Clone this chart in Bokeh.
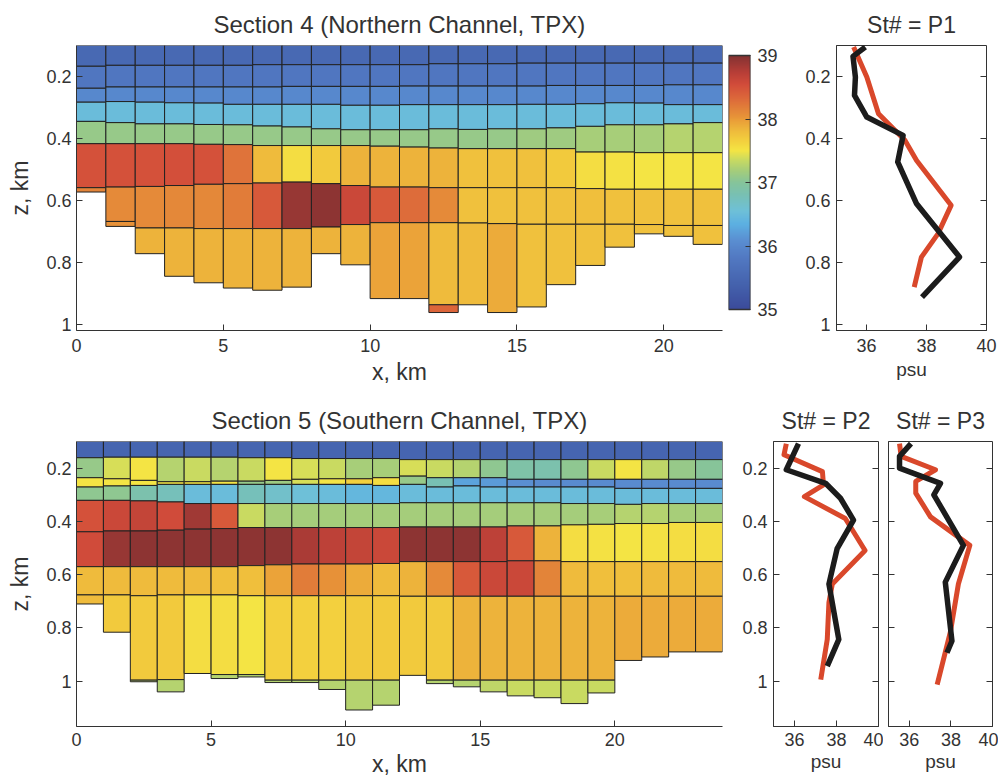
import numpy as np
from bokeh.plotting import figure
from bokeh.models import (Range1d, FixedTicker, LinearColorMapper,
                          ColumnDataSource, LinearAxis, NumeralTickFormatter)
from bokeh.layouts import row, column
from bokeh.embed import file_html
from bokeh.resources import INLINE

# ---------------- data ----------------
sec4_x = list(range(0, 23))          # column edges, km
sec4_bounds = [
    [0.10, 0.167, 0.238, 0.283, 0.345, 0.417, 0.559, 0.573],
    [0.10, 0.164, 0.234, 0.281, 0.349, 0.417, 0.557, 0.668, 0.684],
    [0.10, 0.164, 0.234, 0.283, 0.353, 0.417, 0.555, 0.689, 0.772],
    [0.10, 0.164, 0.234, 0.285, 0.353, 0.417, 0.552, 0.689, 0.845],
    [0.10, 0.164, 0.234, 0.286, 0.355, 0.419, 0.548, 0.691, 0.866],
    [0.10, 0.164, 0.234, 0.290, 0.356, 0.420, 0.546, 0.691, 0.883],
    [0.10, 0.162, 0.234, 0.290, 0.360, 0.423, 0.544, 0.691, 0.890],
    [0.10, 0.162, 0.232, 0.290, 0.363, 0.423, 0.541, 0.691, 0.880],
    [0.10, 0.162, 0.232, 0.290, 0.369, 0.423, 0.546, 0.686, 0.772],
    [0.10, 0.162, 0.232, 0.293, 0.372, 0.423, 0.552, 0.678, 0.808],
    [0.10, 0.162, 0.232, 0.293, 0.372, 0.425, 0.557, 0.672, 0.917],
    [0.10, 0.162, 0.231, 0.291, 0.372, 0.428, 0.557, 0.672, 0.917],
    [0.10, 0.159, 0.231, 0.291, 0.369, 0.431, 0.559, 0.672, 0.937, 0.962],
    [0.10, 0.159, 0.231, 0.291, 0.371, 0.433, 0.559, 0.673, 0.937],
    [0.10, 0.159, 0.231, 0.291, 0.369, 0.433, 0.559, 0.675, 0.962],
    [0.10, 0.157, 0.231, 0.290, 0.369, 0.433, 0.559, 0.677, 0.944],
    [0.10, 0.157, 0.229, 0.290, 0.366, 0.433, 0.559, 0.677, 0.872],
    [0.10, 0.157, 0.229, 0.288, 0.361, 0.444, 0.562, 0.677, 0.810],
    [0.10, 0.157, 0.229, 0.285, 0.356, 0.444, 0.564, 0.677, 0.751],
    [0.10, 0.157, 0.229, 0.286, 0.356, 0.446, 0.564, 0.678, 0.708],
    [0.10, 0.157, 0.227, 0.291, 0.353, 0.446, 0.564, 0.681, 0.716],
    [0.10, 0.157, 0.227, 0.291, 0.349, 0.446, 0.564, 0.681, 0.742],
]
sec4_sal = [
    [35.5, 35.75, 36.0, 36.5, 37.1, 38.5, 38.15],
    [35.5, 35.75, 36.0, 36.5, 37.1, 38.5, 38.1, 38.05],
    [35.5, 35.75, 36.0, 36.5, 37.1, 38.5, 38.1, 37.85],
    [35.5, 35.75, 36.0, 36.5, 37.1, 38.52, 38.12, 37.85],
    [35.5, 35.75, 36.0, 36.5, 37.1, 38.5, 38.12, 37.85],
    [35.5, 35.75, 36.0, 36.5, 37.1, 38.25, 38.2, 37.85],
    [35.5, 35.75, 36.0, 36.5, 37.1, 37.8, 38.45, 37.85],
    [35.5, 35.75, 36.0, 36.5, 37.1, 37.55, 38.9, 37.85],
    [35.5, 35.75, 36.0, 36.5, 37.1, 37.7, 38.95, 37.85],
    [35.5, 35.75, 36.0, 36.5, 37.1, 37.85, 38.6, 37.85],
    [35.5, 35.75, 36.0, 36.5, 37.1, 37.85, 38.45, 37.95],
    [35.5, 35.75, 36.0, 36.5, 37.1, 37.85, 38.3, 37.95],
    [35.5, 35.75, 36.0, 36.5, 37.1, 37.85, 38.1, 37.8, 38.35],
    [35.5, 35.75, 36.0, 36.5, 37.1, 37.75, 37.75, 37.8],
    [35.5, 35.75, 36.0, 36.5, 37.1, 37.75, 37.75, 37.9],
    [35.5, 35.75, 36.0, 36.5, 37.15, 37.75, 37.75, 37.75],
    [35.5, 35.75, 36.0, 36.5, 37.15, 37.7, 37.75, 37.75],
    [35.5, 35.75, 36.0, 36.5, 37.2, 37.55, 37.78, 37.75],
    [35.5, 35.75, 36.0, 36.5, 37.2, 37.52, 37.75, 37.75],
    [35.5, 35.75, 36.0, 36.5, 37.2, 37.5, 37.75, 37.75],
    [35.5, 35.75, 36.0, 36.5, 37.25, 37.5, 37.75, 37.75],
    [35.5, 35.75, 36.0, 36.5, 37.25, 37.5, 37.75, 37.75],
]

sec5_x = list(range(0, 25))
sec5_bounds = [
    [0.10, 0.161, 0.236, 0.271, 0.321, 0.439, 0.570, 0.676, 0.710],
    [0.10, 0.159, 0.240, 0.267, 0.321, 0.436, 0.570, 0.676, 0.816],
    [0.10, 0.159, 0.246, 0.265, 0.323, 0.436, 0.570, 0.679, 0.996, 1.002],
    [0.10, 0.159, 0.251, 0.261, 0.327, 0.433, 0.570, 0.676, 0.994, 1.040],
    [0.10, 0.159, 0.251, 0.261, 0.333, 0.429, 0.570, 0.676, 0.971],
    [0.10, 0.159, 0.249, 0.261, 0.333, 0.427, 0.570, 0.676, 0.975, 0.990],
    [0.10, 0.161, 0.249, 0.261, 0.333, 0.423, 0.566, 0.679, 0.975, 0.984],
    [0.10, 0.161, 0.246, 0.261, 0.333, 0.423, 0.563, 0.679, 0.996, 1.005],
    [0.10, 0.164, 0.242, 0.261, 0.333, 0.423, 0.560, 0.679, 0.996, 1.005],
    [0.10, 0.164, 0.240, 0.261, 0.333, 0.423, 0.560, 0.679, 0.996, 1.031],
    [0.10, 0.164, 0.240, 0.261, 0.333, 0.423, 0.560, 0.679, 0.996, 1.108],
    [0.10, 0.164, 0.236, 0.265, 0.333, 0.423, 0.558, 0.679, 0.996, 1.090],
    [0.10, 0.168, 0.230, 0.261, 0.330, 0.421, 0.551, 0.681, 0.978],
    [0.10, 0.168, 0.236, 0.271, 0.330, 0.421, 0.551, 0.681, 0.996, 1.009],
    [0.10, 0.168, 0.236, 0.267, 0.330, 0.421, 0.551, 0.681, 0.996, 1.021],
    [0.10, 0.168, 0.236, 0.271, 0.330, 0.421, 0.551, 0.681, 0.996, 1.040],
    [0.10, 0.168, 0.242, 0.271, 0.330, 0.417, 0.548, 0.681, 0.996, 1.055],
    [0.10, 0.168, 0.242, 0.271, 0.330, 0.417, 0.548, 0.681, 0.996, 1.062],
    [0.10, 0.168, 0.242, 0.271, 0.333, 0.413, 0.551, 0.681, 0.996, 1.084],
    [0.10, 0.168, 0.242, 0.271, 0.333, 0.411, 0.551, 0.681, 0.996, 1.044],
    [0.10, 0.168, 0.242, 0.276, 0.336, 0.408, 0.551, 0.681, 0.922],
    [0.10, 0.168, 0.242, 0.276, 0.333, 0.408, 0.551, 0.681, 0.909],
    [0.10, 0.168, 0.242, 0.276, 0.333, 0.404, 0.551, 0.681, 0.890],
    [0.10, 0.168, 0.242, 0.276, 0.333, 0.404, 0.551, 0.681, 0.890],
]
sec5_sal = [
    [35.45, 37.1, 37.5, 37.05, 38.5, 38.55, 37.8, 37.8],
    [35.45, 37.4, 37.5, 37.05, 38.6, 38.9, 37.8, 37.7],
    [35.45, 37.5, 37.5, 36.85, 38.65, 38.95, 37.8, 37.7, 37.3],
    [35.45, 37.25, 37.5, 36.75, 38.55, 38.95, 37.8, 37.7, 37.25],
    [35.45, 37.35, 37.5, 36.5, 38.85, 38.95, 37.8, 37.55],
    [35.45, 37.25, 37.5, 36.5, 38.45, 38.95, 37.78, 37.55, 37.25],
    [35.45, 37.35, 37.1, 36.75, 37.35, 38.95, 37.78, 37.5, 37.25],
    [35.45, 37.5, 37.15, 36.65, 37.2, 38.95, 37.95, 37.65, 37.25],
    [35.45, 37.4, 37.4, 36.55, 37.18, 38.8, 38.2, 37.65, 37.25],
    [35.45, 37.35, 37.5, 36.5, 37.18, 38.7, 38.05, 37.65, 37.25],
    [35.45, 37.2, 37.65, 36.45, 37.18, 38.65, 37.9, 37.7, 37.25],
    [35.45, 37.2, 37.55, 36.45, 37.18, 38.6, 37.8, 37.7, 37.25],
    [35.45, 37.4, 37.1, 36.5, 37.18, 38.95, 37.85, 37.7],
    [35.45, 37.35, 36.8, 36.5, 37.18, 38.95, 38.1, 37.7, 37.25],
    [35.45, 37.25, 36.25, 36.5, 37.18, 38.95, 38.45, 37.85, 37.25],
    [35.45, 37.05, 36.2, 36.5, 37.18, 38.7, 38.6, 37.85, 37.3],
    [35.45, 36.9, 36.1, 36.5, 37.18, 38.45, 38.6, 37.85, 37.35],
    [35.45, 36.85, 36.05, 36.5, 37.18, 37.85, 38.15, 37.85, 37.35],
    [35.45, 37.05, 36.05, 36.5, 37.18, 37.55, 37.8, 37.85, 37.35],
    [35.45, 37.35, 36.05, 36.5, 37.2, 37.52, 37.78, 37.85, 37.35],
    [35.45, 37.5, 36.05, 36.5, 37.25, 37.5, 37.78, 37.9],
    [35.45, 37.3, 36.05, 36.5, 37.25, 37.52, 37.8, 37.9],
    [35.45, 37.1, 36.05, 36.5, 37.2, 37.55, 37.8, 37.9],
    [35.45, 37.0, 36.05, 36.5, 37.2, 37.55, 37.8, 37.9],
]

# profiles (psu, depth km); red = observed, black = model
p1_red_psu = [35.57, 36.01, 36.40, 37.28, 37.67, 38.82, 38.38, 37.83, 37.59]
p1_red_z   = [0.105, 0.202, 0.320, 0.406, 0.471, 0.616, 0.708, 0.783, 0.880]
p1_blk_psu = [35.96, 35.55, 35.63, 35.60, 36.01, 37.22, 37.04, 37.67, 39.10, 37.85]
p1_blk_z   = [0.105, 0.135, 0.202, 0.261, 0.331, 0.390, 0.476, 0.611, 0.783, 0.912]

p2_red_psu = [35.61, 35.50, 37.33, 37.38, 36.47, 38.42, 39.36, 37.80, 37.64, 37.56, 37.25]
p2_red_z   = [0.108, 0.150, 0.213, 0.263, 0.307, 0.389, 0.509, 0.635, 0.704, 0.843, 0.994]
p2_blk_psu = [36.19, 35.61, 37.48, 38.19, 38.81, 38.03, 37.64, 38.11, 37.56]
p2_blk_z   = [0.108, 0.206, 0.257, 0.313, 0.395, 0.502, 0.635, 0.843, 0.943]

p3_red_psu = [35.53, 35.61, 37.26, 36.31, 36.31, 37.02, 38.91, 38.36, 37.97, 37.34]
p3_red_z   = [0.108, 0.156, 0.206, 0.250, 0.294, 0.383, 0.490, 0.635, 0.817, 1.013]
p3_blk_psu = [36.08, 35.53, 35.53, 37.50, 37.18, 38.60, 37.73, 38.05, 37.81]
p3_blk_z   = [0.108, 0.156, 0.200, 0.257, 0.300, 0.490, 0.628, 0.849, 0.893]

z_ticks = [0.2, 0.4, 0.6, 0.8, 1.0]
x_ticks = [0, 5, 10, 15, 20]
psu_ticks = [36, 38, 40]
cbar_ticks = [35, 36, 37, 38, 39]

# ---------------- colour map ----------------
cm_v = [35.0, 35.4, 35.8, 36.1, 36.35, 36.55, 36.8, 37.0, 37.2, 37.35, 37.5,
        37.65, 37.8, 38.0, 38.15, 38.35, 38.55, 38.75, 39.0]
cm_c = ["#3b4b9b", "#4563ae", "#5279c2", "#5a8fd2", "#5cb0e2", "#6ec0d8",
        "#78c0b4", "#86c49a", "#a8ce78", "#c8da62", "#f4e544", "#f3d03e",
        "#efbc3c", "#e99a38", "#e38439", "#dc663a", "#d24c3a", "#b63e37",
        "#843232"]


def hex2rgb(h):
    return [int(h[i:i + 2], 16) for i in (1, 3, 5)]


rgb = np.array([hex2rgb(c) for c in cm_c], dtype=float)
grid = np.linspace(35, 39, 256)
palette = []
for g in grid:
    r = np.interp(g, cm_v, rgb[:, 0])
    gg = np.interp(g, cm_v, rgb[:, 1])
    b = np.interp(g, cm_v, rgb[:, 2])
    palette.append("#%02x%02x%02x" % (int(round(r)), int(round(gg)), int(round(b))))

mapper = LinearColorMapper(palette=palette, low=35, high=39)

FONT = "Liberation Sans"
TXT = "#333333"


def cells(x_edges, bounds, sal):
    L, R, T, B, S = [], [], [], [], []
    for i, (bz, sz) in enumerate(zip(bounds, sal)):
        for k, s in enumerate(sz):
            L.append(x_edges[i]); R.append(x_edges[i + 1])
            T.append(bz[k]); B.append(bz[k + 1]); S.append(s)
    return ColumnDataSource(dict(left=L, right=R, top=T, bottom=B, sal=S))


def style_axis(ax, ticks, label, fmt=None):
    ax.ticker = FixedTicker(ticks=ticks)
    ax.minor_tick_line_color = None
    ax.major_tick_in = 6
    ax.major_tick_out = 0
    ax.major_tick_line_color = TXT
    ax.axis_line_color = TXT
    ax.major_label_text_font = FONT
    ax.major_label_text_font_size = "18px"
    ax.major_label_text_color = TXT
    ax.axis_label = label
    ax.axis_label_text_font = FONT
    ax.axis_label_text_font_style = "normal"
    ax.axis_label_text_color = TXT
    if fmt is not None:
        ax.formatter = fmt


def hide_labels(ax, ticks):
    ax.major_label_overrides = {t: "" for t in ticks}
    ax.major_label_standoff = 0


def style_title(p, text, size, standoff):
    p.title.text = text
    p.title.align = "center"
    p.title.text_font = FONT
    p.title.text_font_size = size
    p.title.text_font_style = "normal"
    p.title.text_color = TXT
    p.title.standoff = standoff


zfmt = NumeralTickFormatter(format="0.[0]")


def section(title, x_edges, bounds, sal, xmax, zmax, width, height,
            mb_l, mb_r, mb_t, mb_b, lab_so, ax_so):
    p = figure(width=width, height=height, x_range=Range1d(0, xmax),
               y_range=Range1d(zmax, 0.1), output_backend="svg",
               toolbar_location=None, min_border_left=mb_l,
               min_border_right=mb_r, min_border_top=mb_t,
               min_border_bottom=mb_b)
    p.quad(left="left", right="right", top="top", bottom="bottom",
           source=cells(x_edges, bounds, sal),
           fill_color={"field": "sal", "transform": mapper},
           line_color="#222222", line_width=1)
    p.grid.visible = False
    p.outline_line_color = None
    style_axis(p.xaxis[0], x_ticks, "x, km")
    style_axis(p.yaxis[0], z_ticks, "z, km", zfmt)
    p.xaxis.major_label_standoff = lab_so
    p.xaxis.axis_label_standoff = ax_so
    p.xaxis.axis_label_text_font_size = "23px"
    p.yaxis.major_label_standoff = 5
    p.yaxis.axis_label_standoff = 10
    p.yaxis.axis_label_text_font_size = "23px"
    style_title(p, title, "24px", 16)
    return p


def profile(title, red_psu, red_z, blk_psu, blk_z, zmax, width, height,
            mb_l, mb_r, mb_t, mb_b, show_z_labels, lab_so, ax_so):
    p = figure(width=width, height=height, x_range=Range1d(35, 40),
               y_range=Range1d(zmax, 0.1), output_backend="svg",
               toolbar_location=None, min_border_left=mb_l,
               min_border_right=mb_r, min_border_top=mb_t,
               min_border_bottom=mb_b)
    p.line(red_psu, red_z, line_color="#d9482b", line_width=5,
           line_join="round")
    p.line(blk_psu, blk_z, line_color="#1c1c1c", line_width=5.5,
           line_join="round")
    p.grid.visible = False
    p.outline_line_color = TXT
    p.outline_line_width = 1
    style_axis(p.xaxis[0], psu_ticks, "psu")
    p.xaxis.major_label_standoff = lab_so
    p.xaxis.axis_label_standoff = ax_so
    p.xaxis.axis_label_text_font_size = "19px"
    style_axis(p.yaxis[0], z_ticks, "", zfmt)
    p.yaxis.major_label_standoff = 6
    if not show_z_labels:
        hide_labels(p.yaxis[0], z_ticks)
    ra = LinearAxis()
    style_axis(ra, z_ticks, "")
    hide_labels(ra, z_ticks)
    ra.axis_line_color = None
    p.add_layout(ra, "right")
    style_title(p, title, "23px", 16)
    return p


def colorbar_fig(width, height, mb_l, mb_r, mb_t, mb_b, y_lo, y_hi):
    # frame is shared with the neighbouring plots; the bar spans 35..39 inside
    p = figure(width=width, height=height, x_range=Range1d(0, 1),
               y_range=Range1d(y_lo, y_hi), output_backend="svg",
               toolbar_location=None, min_border_left=mb_l,
               min_border_right=mb_r, min_border_top=mb_t,
               min_border_bottom=mb_b, x_axis_location=None,
               y_axis_location="right")
    levels = np.linspace(35, 39, 256).reshape(256, 1)
    p.image(image=[levels], x=0, y=cbar_ticks[0], dw=1,
            dh=cbar_ticks[-1] - cbar_ticks[0], color_mapper=mapper)
    p.quad(left=0, right=1, bottom=cbar_ticks[0], top=cbar_ticks[-1],
           fill_color=None, line_color=TXT, line_width=1.5)
    p.grid.visible = False
    p.outline_line_color = None
    style_axis(p.yaxis[0], cbar_ticks, "")
    p.yaxis.major_tick_in = 5
    p.yaxis.major_label_standoff = 7
    p.yaxis.axis_line_color = None
    return p


# ---------------- top row ----------------
p4 = section("Section 4 (Northern Channel, TPX)", sec4_x, sec4_bounds,
             sec4_sal, 22, 1.02, 724, 390, 76, 2, 45, 60, 8, 4)
# frame 45..330 px, bar 55..309 px -> 63.5 px per psu
pcb = colorbar_fig(74, 390, 4, 48, 45, 60, 35 - 21 / 63.5, 39 + 10 / 63.5)
pp1 = profile("St# = P1", p1_red_psu, p1_red_z, p1_blk_psu, p1_blk_z, 1.02,
              200, 390, 38, 12, 45, 60, True, 8, 4)

# ---------------- bottom row ----------------
p5 = section("Section 5 (Southern Channel, TPX)", sec5_x, sec5_bounds,
             sec5_sal, 24, 1.17, 723, 391, 76, 1, 51, 55, 6, 2)
pp2 = profile("St# = P2", p2_red_psu, p2_red_z, p2_blk_psu, p2_blk_z, 1.17,
              160, 391, 50, 5, 51, 55, True, 6, 2)
pp3 = profile("St# = P3", p3_red_psu, p3_red_z, p3_blk_psu, p3_blk_z, 1.17,
              115, 391, 5, 6, 51, 55, False, 6, 2)

layout = column(row(p4, pcb, pp1), row(p5, pp2, pp3))
open("out.html", "w").write(file_html(layout, INLINE))
